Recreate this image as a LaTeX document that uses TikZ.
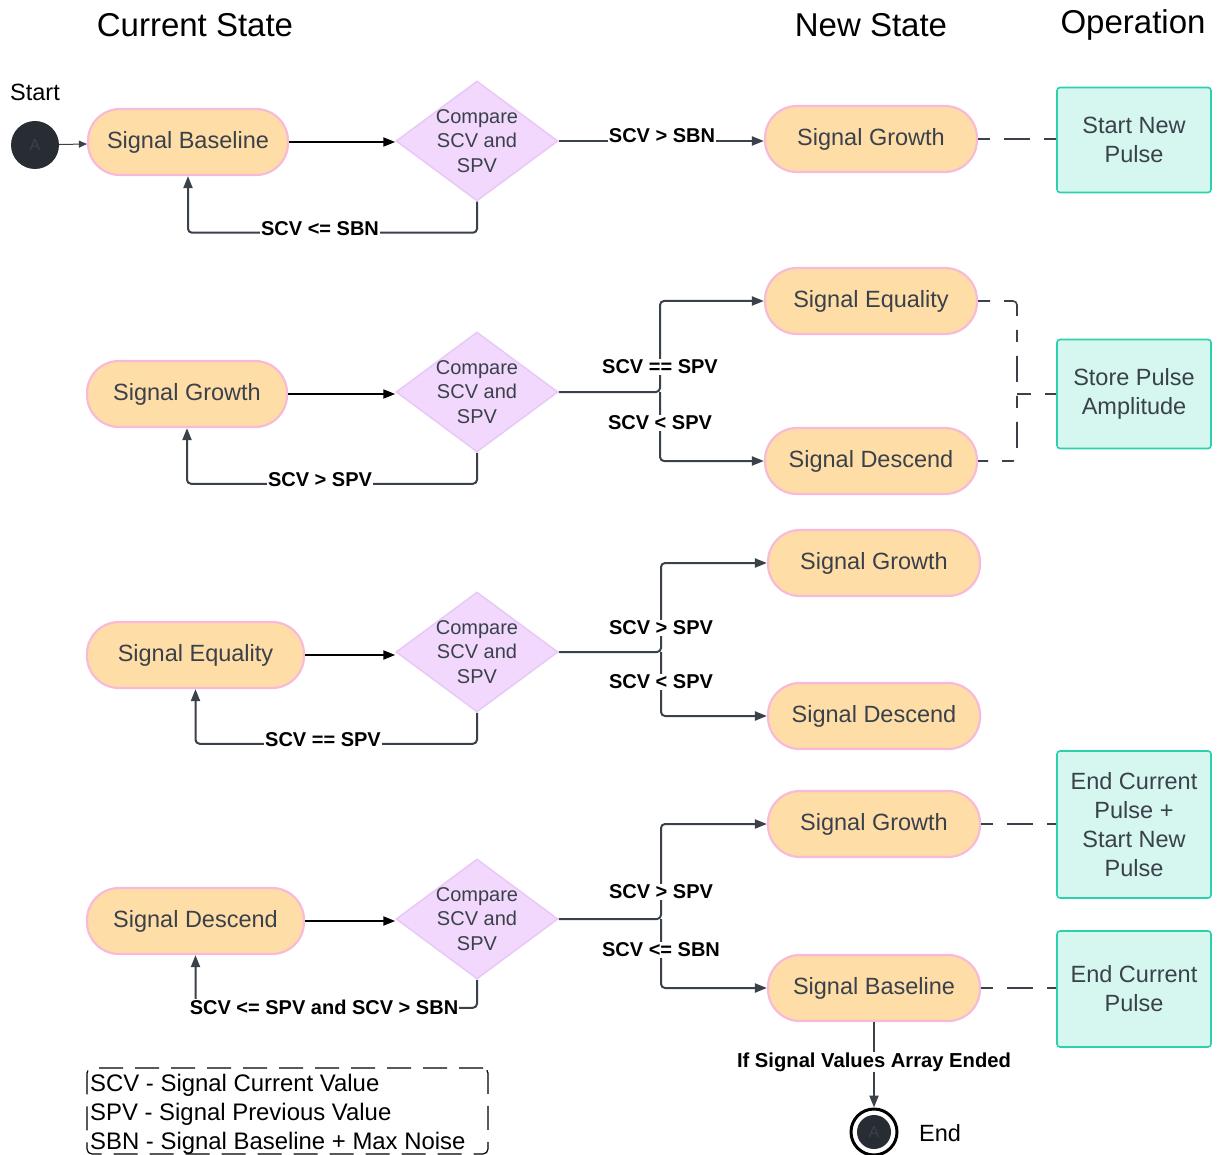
\documentclass[tikz,border=0pt]{standalone}
\usepackage{fontspec}
\setmainfont{Liberation Sans}
\usetikzlibrary{arrows.meta,shapes.geometric}

\definecolor{pillfill}{HTML}{FFDDA6}
\definecolor{pillline}{HTML}{F8BAD8}
\definecolor{cmpfill}{HTML}{F2D8FC}
\definecolor{cmpline}{HTML}{E9C8F8}
\definecolor{opfill}{HTML}{D5F7F0}
\definecolor{opline}{HTML}{2DD0AC}
\definecolor{ink}{HTML}{3A414A}
\definecolor{dot}{HTML}{282C33}

\tikzset{
  state/.style={draw=pillline, fill=pillfill, line width=2.2pt, rounded corners=32pt,
    minimum height=66pt, text=ink, font=\fontsize{23.5}{29}\selectfont},
  compare/.style={diamond, draw=cmpline, fill=cmpfill, line width=1.5pt, inner sep=0pt,
    minimum width=162pt, minimum height=120pt},
  cmptext/.style={align=center, text=ink, font=\fontsize{20}{24.5}\selectfont},
  operation/.style={draw=opline, fill=opfill, line width=1.6pt, rounded corners=3pt,
    minimum width=154pt, align=center, text=ink, font=\fontsize{23.5}{29}\selectfont},
  cond/.style={fill=white, inner sep=1pt, text=black, font=\bfseries\fontsize{20}{24}\selectfont},
  title/.style={text=black, font=\fontsize{33}{40}\selectfont},
  flow/.style={draw=ink, line width=2pt, rounded corners=4pt, -{Triangle[length=12pt,width=9pt]}},
  push/.style={draw=black, line width=2pt, -{Triangle[length=12pt,width=9pt]}},
  link/.style={draw=ink, line width=1.6pt, dash pattern=on 12pt off 14pt on 26pt off 14pt, rounded corners=4pt},
}

\begin{document}
\begin{tikzpicture}[x=1pt,y=-1pt]
    \useasboundingbox (0,0) rectangle (1220,1155);
    %% Headings
    \node[title] (hcur) at (195,25) {Current State};
    \node[title] (hnew) at (871,25) {New State};
    \node[title] (hop) at (1133,25) {Operation};
    \node[text=black, font=\fontsize{23.5}{29}\selectfont] (lstart) at (35,92) {Start};

    %% Row 1: baseline
    \node[circle, fill=dot, minimum size=48pt, inner sep=0pt, text=ink,
        font=\fontsize{16}{18}\selectfont] (start) at (35,145) {A};
    \node[state, minimum width=200pt] (base1) at (188,142) {Signal Baseline};
    \node[compare] (cmp1) at (477,141) {};
    \node[cmptext] (cmp1t) at (cmp1) {Compare\\SCV and\\SPV};
    \node[state, minimum width=212pt] (grow1) at (871,139) {Signal Growth};
    \node[operation, minimum height=105pt] (op1) at (1134,140) {Start New\\Pulse};
    \draw[draw=ink, line width=1pt, -{Triangle[length=8pt,width=7pt]}] (start) -- (base1);
    \draw[push] (base1.east) -- (cmp1.west |- base1.east);
    \draw[flow] (cmp1.east) -- (cmp1.east -| grow1.west);
    \draw[flow] (cmp1.south) -- ++(0,31) -| (base1.south);
    \draw[link] (grow1.east) -- (op1.west |- grow1.east);
    \node[cond] (c1a) at (662,136) {SCV > SBN};
    \node[cond] (c1b) at (320,229) {SCV <= SBN};

    %% Row 2: growth
    \node[state, minimum width=200pt] (grow2) at (187,394) {Signal Growth};
    \node[compare] (cmp2) at (477,392) {};
    \node[cmptext] (cmp2t) at (cmp2) {Compare\\SCV and\\SPV};
    \node[state, minimum width=212pt] (eq2) at (871,301) {Signal Equality};
    \node[state, minimum width=212pt] (desc2) at (871,461) {Signal Descend};
    \node[operation, minimum height=109pt] (op2) at (1134,394) {Store Pulse\\Amplitude};
    \coordinate (fork2) at (660,392);
    \coordinate (join2) at (1017,394);
    \draw[push] (grow2.east) -- (cmp2.west |- grow2.east);
    \draw[flow] (cmp2.east) -- (fork2) |- (eq2.west);
    \draw[flow] (fork2) |- (desc2.west);
    \draw[flow] (cmp2.south) -- ++(0,31) -| (grow2.south);
    \draw[link] (eq2.east) -| (join2) |- (desc2.east);
    \draw[link, dash pattern=on 14pt off 14pt on 20pt off 10pt] (join2) -- (op2.west);
    \node[cond] (c2a) at (660,367) {SCV == SPV};
    \node[cond] (c2b) at (660,423) {SCV < SPV};
    \node[cond] (c2c) at (320,480) {SCV > SPV};

    %% Row 3: equality
    \node[state, minimum width=217pt] (eq3) at (195.5,655) {Signal Equality};
    \node[compare] (cmp3) at (477,652) {};
    \node[cmptext] (cmp3t) at (cmp3) {Compare\\SCV and\\SPV};
    \node[state, minimum width=212pt] (grow3) at (874,563) {Signal Growth};
    \node[state, minimum width=212pt] (desc3) at (874,716) {Signal Descend};
    \coordinate (fork3) at (661,652);
    \draw[push] (eq3.east) -- (cmp3.west |- eq3.east);
    \draw[flow] (cmp3.east) -- (fork3) |- (grow3.west);
    \draw[flow] (fork3) |- (desc3.west);
    \draw[flow] (cmp3.south) -- ++(0,31) -| (eq3.south);
    \node[cond] (c3a) at (661,628) {SCV > SPV};
    \node[cond] (c3b) at (661,682) {SCV < SPV};
    \node[cond] (c3c) at (323,740) {SCV == SPV};

    %% Row 4: descend
    \node[state, minimum width=217pt] (desc4) at (195.5,921) {Signal Descend};
    \node[compare] (cmp4) at (477,919) {};
    \node[cmptext] (cmp4t) at (cmp4) {Compare\\SCV and\\SPV};
    \node[state, minimum width=212pt] (grow4) at (874,824) {Signal Growth};
    \node[state, minimum width=212pt] (base4) at (874,988) {Signal Baseline};
    \node[operation, minimum height=147pt] (op3) at (1134,824.5) {End Current\\Pulse +\\Start New\\Pulse};
    \node[operation, minimum height=116pt] (op4) at (1134,989) {End Current\\Pulse};
    \coordinate (fork4) at (661,919);
    \draw[push] (desc4.east) -- (cmp4.west |- desc4.east);
    \draw[flow] (cmp4.east) -- (fork4) |- (grow4.west);
    \draw[flow] (fork4) |- (base4.west);
    \draw[flow] (cmp4.south) -- ++(0,28) -| (desc4.south);
    \draw[link] (grow4.east) -- (op3.west |- grow4.east);
    \draw[link] (base4.east) -- (op4.west |- base4.east);
    \node[cond] (c4a) at (661,892) {SCV > SPV};
    \node[cond] (c4b) at (661,950) {SCV <= SBN};
    \node[cond] (c4c) at (324,1007) {SCV <= SPV and SCV > SBN};

    %% End
    \node[circle, draw=black, line width=3pt, fill=white, minimum size=46pt] (endc) at (874,1132) {};
    \node[circle, fill=dot, minimum size=34pt, inner sep=0pt, text=ink,
        font=\fontsize{16}{18}\selectfont] (endin) at (endc) {A};
    \node[text=black, font=\fontsize{23.5}{29}\selectfont] (lend) at (940,1133) {End};
    \draw[flow] (base4.south) -- (endc.north);
    \node[cond, font=\bfseries\fontsize{20.2}{24}\selectfont] (cend) at (874,1062) {If Signal Values Array Ended};

    %% Legend
    \node[draw=black, line width=1.2pt, dash pattern=on 24pt off 12pt, rounded corners=5pt,
        minimum width=401pt, minimum height=86pt] (key) at (287.5,1111) {};
    \node[anchor=north west, inner sep=0pt, align=left, text=black,
        font=\fontsize{23.9}{29}\selectfont] (keytext) at (90,1074)
        {SCV - Signal Current Value\\SPV - Signal Previous Value\\SBN - Signal Baseline + Max Noise};
\end{tikzpicture}
\end{document}
